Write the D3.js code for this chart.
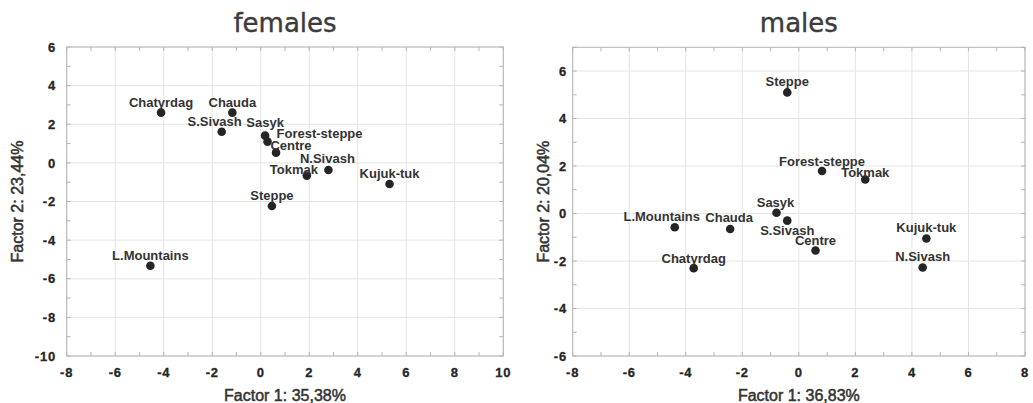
<!DOCTYPE html>
<html>
<head>
<meta charset="utf-8">
<script src="https://cdn.jsdelivr.net/npm/d3@7"></script>
<style>
	body { margin: 0; background: #fff; }
	svg { display: block; font-family: "Liberation Sans", Arial, sans-serif; }
</style>
</head>
<body>
<div id="chart"></div>
<script>
// ---------- DATA ----------
const femaleSites = ["Chatyrdag", "Chauda", "S.Sivash", "Sasyk", "Forest-steppe", "Centre", "N.Sivash", "Tokmak", "Steppe", "Kujuk-tuk", "L.Mountains"];
const femaleF1 = [-4.11, -1.17, -1.61, 0.18, 0.28, 0.63, 2.79, 1.9, 0.46, 5.31, -4.55];
const femaleF2 = [2.6, 2.6, 1.61, 1.41, 1.1, 0.53, -0.37, -0.66, -2.23, -1.09, -5.33];

const maleSites = ["Steppe", "Forest-steppe", "Tokmak", "Sasyk", "S.Sivash", "L.Mountains", "Chauda", "Centre", "Chatyrdag", "Kujuk-tuk", "N.Sivash"];
const maleF1 = [-0.41, 0.82, 2.35, -0.79, -0.41, -4.39, -2.43, 0.59, -3.72, 4.51, 4.38];
const maleF2 = [5.1, 1.79, 1.43, 0.03, -0.3, -0.58, -0.65, -1.56, -2.3, -1.05, -2.27];

const femaleXTicks = [-8, -6, -4, -2, 0, 2, 4, 6, 8, 10];
const femaleYTicks = [6, 4, 2, 0, -2, -4, -6, -8, -10];
const maleXTicks = [-8, -6, -4, -2, 0, 2, 4, 6, 8];
const maleYTicks = [6, 4, 2, 0, -2, -4, -6];

// ---------- LAYOUT ----------
const size = { w: 1033, h: 403 };

// label nudges in px relative to the dot: [dx, dy, anchor]
const femaleLabelPos = {
	"Chatyrdag": [0, -6, "middle"],
	"Chauda": [0, -6, "middle"],
	"S.Sivash": [-7, -6, "middle"],
	"Sasyk": [0, -9, "middle"],
	"Forest-steppe": [9, -4, "start"],
	"Centre": [15, -3, "middle"],
	"N.Sivash": [-1, -7, "middle"],
	"Tokmak": [-13, -2, "middle"],
	"Steppe": [0, -6, "middle"],
	"Kujuk-tuk": [0, -6, "middle"],
	"L.Mountains": [0, -6, "middle"],
};
const maleLabelPos = {
	"Steppe": [0, -6, "middle"],
	"Forest-steppe": [0, -5, "middle"],
	"Tokmak": [0, -3, "middle"],
	"Sasyk": [-1, -6, "middle"],
	"S.Sivash": [0, 14, "middle"],
	"L.Mountains": [-13, -6, "middle"],
	"Chauda": [-1, -7, "middle"],
	"Centre": [0, -6, "middle"],
	"Chatyrdag": [0, -5, "middle"],
	"Kujuk-tuk": [0, -6, "middle"],
	"N.Sivash": [0, -6, "middle"],
};

const panels = [
	{
		title: "females",
		xLabel: "Factor 1: 35,38%",
		yLabel: "Factor 2: 23,44%",
		sites: femaleSites, f1: femaleF1, f2: femaleF2,
		xDomain: [-8, 10], yDomain: [-10, 6],
		xTicks: femaleXTicks, yTicks: femaleYTicks,
		box: { x0: 66.7, x1: 503.3, y0: 47, y1: 356 },
		yTickX: 56, yLabelX: 22.5,
		labelPos: femaleLabelPos,
	},
	{
		title: "males",
		xLabel: "Factor 1: 36,83%",
		yLabel: "Factor 2: 20,04%",
		sites: maleSites, f1: maleF1, f2: maleF2,
		xDomain: [-8, 8], yDomain: [-6, 7],
		xTicks: maleXTicks, yTicks: maleYTicks,
		box: { x0: 572.7, x1: 1025, y0: 47.3, y1: 356 },
		yTickX: 567, yLabelX: 549,
		labelPos: maleLabelPos,
	},
];

const svg = d3
	.select("#chart")
	.append("svg")
	.attr("width", size.w)
	.attr("height", size.h);

panels.forEach((p) => drawPanel(p));

function drawPanel(p) {
	const b = p.box;
	const x = d3.scaleLinear().domain(p.xDomain).range([b.x0, b.x1]);
	const y = d3.scaleLinear().domain(p.yDomain).range([b.y1, b.y0]);
	const g = svg.append("g");

	// grid at major ticks
	g.append("g")
		.selectAll("line.vgrid")
		.data(p.xTicks)
		.join("line")
		.attr("x1", (d) => x(d))
		.attr("x2", (d) => x(d))
		.attr("y1", b.y0)
		.attr("y2", b.y1)
		.attr("stroke", "#e4e4e4")
		.attr("stroke-width", 1);
	g.append("g")
		.selectAll("line.hgrid")
		.data(p.yTicks)
		.join("line")
		.attr("x1", b.x0)
		.attr("x2", b.x1)
		.attr("y1", (d) => y(d))
		.attr("y2", (d) => y(d))
		.attr("stroke", "#e4e4e4")
		.attr("stroke-width", 1);

	// inward minor ticks on all four sides, every unit
	const tickLen = 4;
	const xMinor = d3.range(Math.ceil(p.xDomain[0]), p.xDomain[1] + 1);
	const yMinor = d3.range(Math.ceil(p.yDomain[0]), p.yDomain[1] + 1);
	const ticks = g.append("g").attr("stroke", "#b5b5b5").attr("stroke-width", 1);
	[b.y1, b.y0].forEach((yy, i) => {
		ticks.append("g")
			.selectAll("line")
			.data(xMinor)
			.join("line")
			.attr("x1", (d) => x(d))
			.attr("x2", (d) => x(d))
			.attr("y1", yy)
			.attr("y2", i === 0 ? yy - tickLen : yy + tickLen);
	});
	[b.x0, b.x1].forEach((xx, i) => {
		ticks.append("g")
			.selectAll("line")
			.data(yMinor)
			.join("line")
			.attr("y1", (d) => y(d))
			.attr("y2", (d) => y(d))
			.attr("x1", xx)
			.attr("x2", i === 0 ? xx + tickLen : xx - tickLen);
	});

	// frame
	g.append("rect")
		.attr("x", b.x0)
		.attr("y", b.y0)
		.attr("width", b.x1 - b.x0)
		.attr("height", b.y1 - b.y0)
		.attr("fill", "none")
		.attr("stroke", "#b5b5b5")
		.attr("stroke-width", 1);

	// tick labels
	g.append("g")
		.selectAll("text")
		.data(p.xTicks)
		.join("text")
		.attr("x", (d) => x(d))
		.attr("y", 376.5)
		.attr("text-anchor", "middle")
		.attr("font-size", 13)
		.attr("font-weight", "bold")
		.attr("letter-spacing", 0.8)
		.attr("fill", "#262626")
		.attr("stroke", "#262626")
		.attr("stroke-width", 0.3)
		.text((d) => d);
	g.append("g")
		.selectAll("text")
		.data(p.yTicks)
		.join("text")
		.attr("x", p.yTickX)
		.attr("y", (d) => y(d))
		.attr("dy", "0.36em")
		.attr("text-anchor", "end")
		.attr("font-size", 13)
		.attr("font-weight", "bold")
		.attr("letter-spacing", 0.8)
		.attr("fill", "#262626")
		.attr("stroke", "#262626")
		.attr("stroke-width", 0.3)
		.text((d) => d);

	// titles
	g.append("text")
		.attr("x", (b.x0 + b.x1) / 2)
		.attr("y", 31.5)
		.attr("text-anchor", "middle")
		.attr("font-family", "'DejaVu Sans', sans-serif")
		.attr("font-size", 26)
		.attr("fill", "#3c3c3c")
		.attr("stroke", "#3c3c3c")
		.attr("stroke-width", 0.4)
		.text(p.title);
	g.append("text")
		.attr("x", (b.x0 + b.x1) / 2)
		.attr("y", 400.5)
		.attr("text-anchor", "middle")
		.attr("font-size", 16)
		.attr("fill", "#333")
		.attr("stroke", "#333")
		.attr("stroke-width", 0.5)
		.text(p.xLabel);
	g.append("text")
		.attr("transform", `translate(${p.yLabelX}, ${(b.y0 + b.y1) / 2}) rotate(-90)`)
		.attr("text-anchor", "middle")
		.attr("font-size", 16)
		.attr("fill", "#333")
		.attr("stroke", "#333")
		.attr("stroke-width", 0.5)
		.text(p.yLabel);

	// points
	const pts = p.sites.map((s, i) => ({ name: s, x: p.f1[i], y: p.f2[i] }));
	g.append("g")
		.selectAll("circle")
		.data(pts)
		.join("circle")
		.attr("cx", (d) => x(d.x))
		.attr("cy", (d) => y(d.y))
		.attr("r", 4.3)
		.attr("fill", "#252525");
	g.append("g")
		.selectAll("text")
		.data(pts)
		.join("text")
		.attr("x", (d) => x(d.x) + p.labelPos[d.name][0])
		.attr("y", (d) => y(d.y) + p.labelPos[d.name][1])
		.attr("text-anchor", (d) => p.labelPos[d.name][2])
		.attr("font-size", 13)
		.attr("font-weight", "bold")
		.attr("fill", "#333")
		.text((d) => d.name);
}
</script>
</body>
</html>
